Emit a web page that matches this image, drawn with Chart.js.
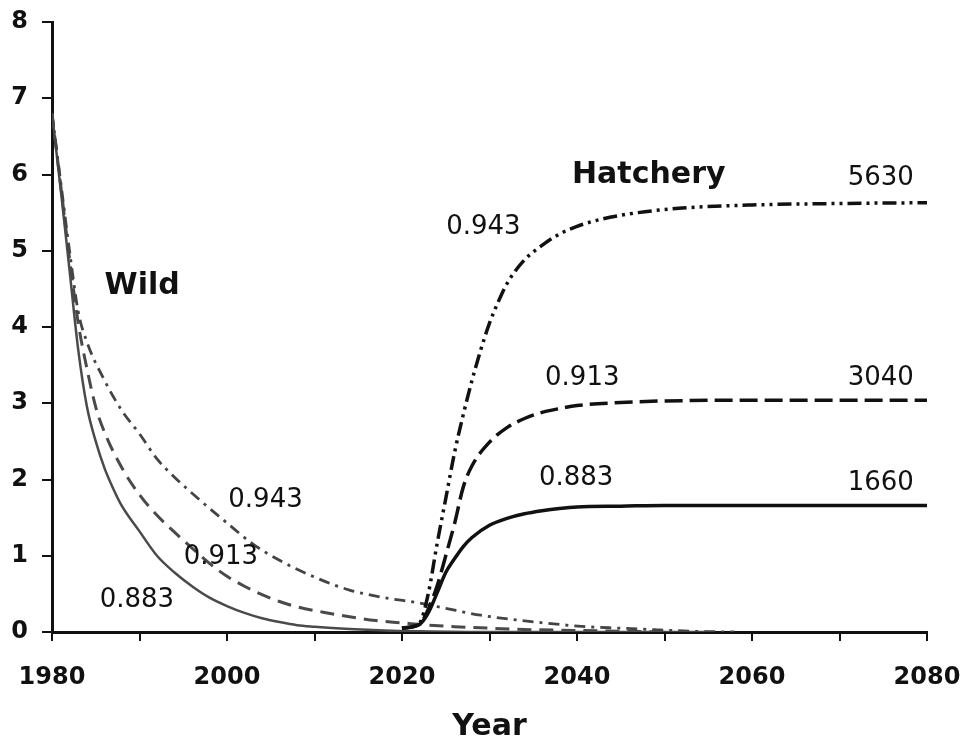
<!DOCTYPE html>
<html>
<head>
<meta charset="utf-8">
<script src="https://cdn.jsdelivr.net/npm/chart.js@4.4.0/dist/chart.umd.min.js"></script>
<style>
  html, body { margin: 0; padding: 0; background: #fff; }
  canvas { display: block; }
</style>
</head>
<body>
<canvas id="mycanvas" width="963" height="742"></canvas>
<script>
// wild stock, three survival rates
var wildYears883 = [1980, 1981, 1982, 1983, 1984, 1985, 1986, 1987, 1988, 1990, 1992, 1994, 1996, 1998, 2000, 2002, 2004, 2006, 2008, 2010, 2014, 2018, 2022, 2030, 2040, 2055];
var wild883 = [6.8, 5.8, 4.75, 3.7, 2.95, 2.5, 2.15, 1.88, 1.65, 1.32, 1.0, 0.78, 0.6, 0.45, 0.34, 0.25, 0.18, 0.13, 0.09, 0.07, 0.04, 0.02, 0.01, 0, 0, 0];

var wildYears913 = [1980, 1981, 1982, 1983, 1984, 1985, 1986, 1988, 1990, 1992, 1994, 1996, 1998, 2000, 2002, 2004, 2006, 2008, 2011, 2014, 2017, 2020, 2023, 2026, 2030, 2035, 2040, 2050];
var wild913 = [6.8, 5.85, 4.9, 4.05, 3.45, 2.95, 2.62, 2.15, 1.8, 1.53, 1.31, 1.1, 0.9, 0.73, 0.6, 0.49, 0.4, 0.33, 0.26, 0.2, 0.15, 0.12, 0.09, 0.07, 0.05, 0.03, 0.02, 0];

var wildYears943 = [1980, 1981, 1982, 1983, 1984, 1986, 1988, 1990, 1992, 1994, 1997, 2000, 2003, 2006, 2010, 2014, 2018, 2022, 2025, 2029, 2033, 2037, 2041, 2045, 2049, 2053, 2058];
var wild943 = [6.8, 5.9, 5.0, 4.2, 3.8, 3.3, 2.9, 2.6, 2.27, 2.03, 1.72, 1.43, 1.15, 0.94, 0.72, 0.55, 0.45, 0.38, 0.31, 0.22, 0.16, 0.11, 0.07, 0.05, 0.03, 0.01, 0];

// hatchery stock
var hatchYears883 = [2020, 2022, 2023, 2024, 2025, 2026, 2027, 2028, 2030, 2032, 2034, 2036, 2038, 2040, 2045, 2050, 2060, 2080];
var hatch883 = [0.05, 0.1, 0.25, 0.51, 0.78, 0.96, 1.12, 1.24, 1.4, 1.49, 1.55, 1.59, 1.62, 1.64, 1.65, 1.66, 1.66, 1.66];

var hatchYears913 = [2020, 2022, 2023, 2024, 2025, 2026, 2027, 2028, 2030, 2032, 2034, 2036, 2038, 2040, 2045, 2050, 2060, 2080];
var hatch913 = [0.05, 0.1, 0.3, 0.6, 1.0, 1.42, 1.9, 2.18, 2.49, 2.68, 2.8, 2.88, 2.93, 2.97, 3.01, 3.03, 3.04, 3.04];

var hatchYears943 = [2020, 2022, 2023, 2024, 2025, 2026, 2027, 2028, 2029, 2030, 2031, 2032, 2034, 2036, 2038, 2040, 2043, 2047, 2052, 2060, 2070, 2080];
var hatch943 = [0.05, 0.12, 0.5, 1.15, 1.75, 2.35, 2.85, 3.3, 3.7, 4.05, 4.33, 4.57, 4.88, 5.07, 5.22, 5.32, 5.42, 5.5, 5.56, 5.6, 5.62, 5.63];

var xTicks = [1980, 2000, 2020, 2040, 2060, 2080];
var yTicks = [0, 1, 2, 3, 4, 5, 6, 7, 8];

// text written on the plot, placed in data units
var notes = [
  { text: 'Wild', x: 1990.3, y: 4.54, bold: true, align: 'center' },
  { text: 'Hatchery', x: 2048.2, y: 5.99, bold: true, align: 'center' },
  { text: '0.943', x: 2004.4, y: 1.73, align: 'center' },
  { text: '0.913', x: 1999.3, y: 0.98, align: 'center' },
  { text: '0.883', x: 1989.7, y: 0.42, align: 'center' },
  { text: '0.943', x: 2029.3, y: 5.31, align: 'center' },
  { text: '5630', x: 2078.5, y: 5.95, align: 'right' },
  { text: '0.913', x: 2040.6, y: 3.33, align: 'center' },
  { text: '3040', x: 2078.5, y: 3.33, align: 'right' },
  { text: '0.883', x: 2039.9, y: 2.01, align: 'center' },
  { text: '1660', x: 2078.5, y: 1.95, align: 'right' }
];

function pairs(xs, ys) {
  var out = [];
  for (var i in xs) {
    out.push({ x: xs[i], y: ys[i] });
  }
  return out;
}

function line(data, color, width, dash) {
  return {
    data: data,
    borderColor: color,
    borderWidth: width,
    borderDash: dash,
    pointRadius: 0,
    fill: false,
    cubicInterpolationMode: 'monotone'
  };
}

var notesPlugin = {
  id: 'notes',
  afterDatasetsDraw: function(chart) {
    var ctx = chart.ctx;
    var xs = chart.scales.x, ys = chart.scales.y;
    ctx.save();
    ctx.fillStyle = '#111';
    ctx.textBaseline = 'middle';
    notes.forEach(function(n) {
      ctx.font = n.bold ? 'bold 30px "DejaVu Sans"' : '26px "DejaVu Sans"';
      ctx.textAlign = n.align;
      ctx.fillText(n.text, xs.getPixelForValue(n.x), ys.getPixelForValue(n.y));
    });
    ctx.restore();
  }
};

Chart.defaults.font.family = '"DejaVu Sans"';
Chart.defaults.color = '#111';

var ctx = document.getElementById('mycanvas');

var chart = new Chart(ctx, {
  type: 'line',
  data: {
    datasets: [
      line(pairs(hatchYears943, hatch943), '#111', 3.5, [14, 5, 3, 5, 3, 5]),
      line(pairs(hatchYears913, hatch913), '#111', 3.5, [18, 7]),
      line(pairs(hatchYears883, hatch883), '#111', 3.5, []),
      line(pairs(wildYears943, wild943), '#444', 2.8, [11, 6, 3, 6]),
      line(pairs(wildYears913, wild913), '#4a4a4a', 3, [14, 8]),
      line(pairs(wildYears883, wild883), '#4a4a4a', 2.5, [])
    ]
  },
  options: {
    responsive: false,
    animation: false,
    layout: { padding: { top: 22, right: 36, bottom: 0, left: 0 } },
    plugins: {
      legend: { display: false },
      tooltip: { enabled: false }
    },
    scales: {
      x: {
        type: 'linear',
        min: 1980,
        max: 2080,
        border: { color: '#111', width: 3 },
        grid: { drawOnChartArea: false, drawTicks: true, tickLength: 9, color: '#111', lineWidth: 2 },
        ticks: {
          stepSize: 10,
          padding: 22,
          maxRotation: 0,
          font: { size: 24, weight: 'bold' },
          callback: function(v) { return xTicks.indexOf(v) >= 0 ? String(v) : ''; }
        },
        title: {
          display: true,
          text: 'Year',
          font: { size: 30, weight: 'bold', lineHeight: 1 },
          padding: 0
        },
        afterFit: function(s) {
          s.height = 110;
          s.paddingLeft = 0;
          s.paddingRight = 0;
        }
      },
      y: {
        min: 0,
        max: 8,
        border: { color: '#111', width: 3 },
        grid: { drawOnChartArea: false, drawTicks: true, tickLength: 10, color: '#111', lineWidth: 2 },
        ticks: {
          stepSize: 1,
          padding: 14,
          font: { size: 24, weight: 'bold' },
          callback: function(v) { return yTicks.indexOf(v) >= 0 ? String(v) : ''; }
        },
        afterFit: function(s) {
          s.width = 52;
          s.paddingTop = 0;
          s.paddingBottom = 0;
        }
      }
    }
  },
  plugins: [notesPlugin]
});
</script>
</body>
</html>
